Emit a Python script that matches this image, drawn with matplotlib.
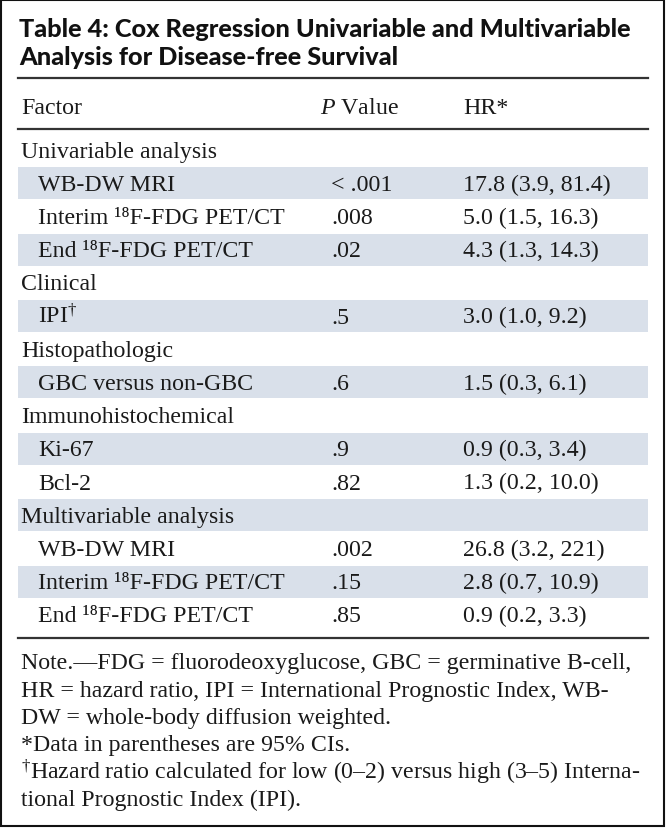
import matplotlib
matplotlib.use("Agg")
import matplotlib.pyplot as plt
from matplotlib.patches import Rectangle

plt.rcParams['mathtext.fontset'] = 'custom'
plt.rcParams['mathtext.rm'] = 'Liberation Serif'
plt.rcParams['mathtext.it'] = 'Liberation Serif:italic'

SUP18 = "¹⁸"
DAG = r"$\mathregular{^{†}}$"

title_lines = ["Table 4: Cox Regression Univariable and Multivariable",
               "Analysis for Disease-free Survival"]
headers = [r"$\mathit{P}$ Value", "HR*"]

factors = ["Univariable analysis", "WB-DW MRI", "Interim " + SUP18 + "F-FDG PET/CT",
           "End " + SUP18 + "F-FDG PET/CT", "Clinical", "IPI" + DAG,
           "Histopathologic", "GBC versus non-GBC", "Immunohistochemical",
           "Ki-67", "Bcl-2", "Multivariable analysis", "WB-DW MRI",
           "Interim " + SUP18 + "F-FDG PET/CT", "End " + SUP18 + "F-FDG PET/CT"]
indent = [0, 1, 1, 1, 0, 1, 0, 1, 0, 1, 1, 0, 1, 1, 1]
p_values = ["", "< .001", ".008", ".02", "", ".5", "", ".6", "", ".9", ".82",
            "", ".002", ".15", ".85"]
hr_values = ["", "17.8 (3.9, 81.4)", "5.0 (1.5, 16.3)", "4.3 (1.3, 14.3)", "",
             "3.0 (1.0, 9.2)", "", "1.5 (0.3, 6.1)", "", "0.9 (0.3, 3.4)",
             "1.3 (0.2, 10.0)", "", "26.8 (3.2, 221)", "2.8 (0.7, 10.9)",
             "0.9 (0.2, 3.3)"]

notes = ["Note.—FDG = fluorodeoxyglucose, GBC = germinative B-cell,",
         "HR = hazard ratio, IPI = International Prognostic Index, WB-",
         "DW = whole-body diffusion weighted.",
         "*Data in parentheses are 95% CIs.",
         DAG + "Hazard ratio calculated for low (0–2) versus high (3–5) Interna-",
         "tional Prognostic Index (IPI)."]

W, H = 666, 829
SHADE = "#d9e0ea"
INK = "#1a1a1a"
RULE = "#333333"
serif = dict(family=["Liberation Serif", "DejaVu Serif"], fontsize=17.2, color=INK)

fig = plt.figure(figsize=(W / 100, H / 100), dpi=100)
ax = fig.add_axes([0, 0, 1, 1])
ax.set_xlim(0, W)
ax.set_ylim(H, 0)
ax.axis("off")

# frame
ax.add_patch(Rectangle((1, 1), W - 3, H - 3, fill=False, ec="#111111", lw=1.5))

# title
for i, line in enumerate(title_lines):
    ax.text(19, 37 + i * 28, line, family="Lato", fontweight=900,
            fontsize=18.2, color="#111111", va="baseline")

left, right = 18, 648
x_factor, x_indent, x_p, x_p_head, x_hr = 21, 38, 331, 320, 463

ax.plot([left, right], [79, 79], color=RULE, lw=1.6)
ax.text(x_factor, 114, "Factor", va="baseline", **serif)
ax.text(x_p_head, 114, headers[0], va="baseline", **serif)
ax.text(x_hr, 114, headers[1], va="baseline", **serif)
ax.plot([left, right], [130, 130], color=RULE, lw=1.6)

pitch = 33.2
y0 = 151
for i, name in enumerate(factors):
    yc = y0 + i * pitch
    if i % 2 == 1:
        ax.add_patch(Rectangle((left, yc - 16), right - left, 32,
                               fc=SHADE, ec="none", zorder=0))
    x = x_indent if indent[i] else x_factor
    ax.text(x, yc + 6.5, name, va="baseline", **serif)
    ax.text(x_p, yc + 6.5, p_values[i], va="baseline", **serif)
    ax.text(x_hr, yc + 6.5, hr_values[i], va="baseline", **serif)

ax.plot([left, right], [639, 639], color=RULE, lw=1.6)

for i, line in enumerate(notes):
    ax.text(x_factor, 669 + i * 27.5, line, va="baseline", **serif)

fig.savefig("out.png", dpi=100)
